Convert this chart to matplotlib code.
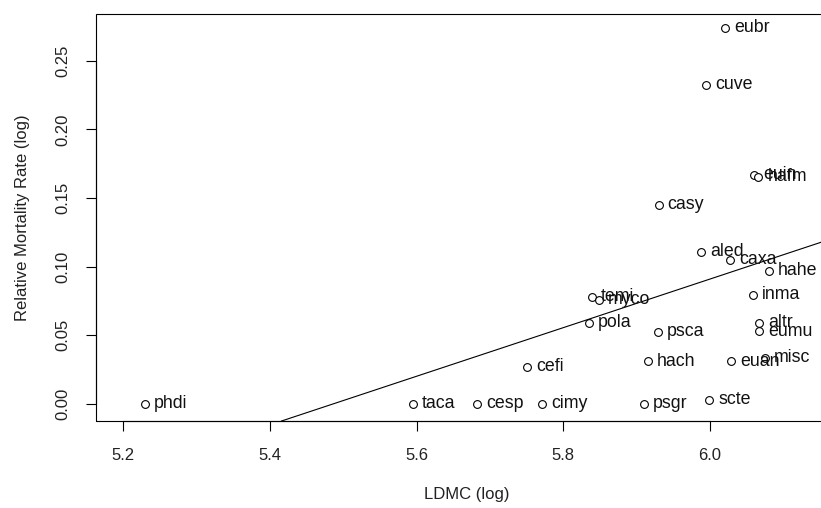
import numpy as np
import matplotlib
matplotlib.use("Agg")
import matplotlib.pyplot as plt
from matplotlib.patches import Rectangle

species = ["phdi", "taca", "cesp", "cimy", "psgr", "scte", "cefi", "pola",
           "temi", "myco", "psca", "hach", "casy", "cuve", "eubr", "euin",
           "hafm", "aled", "caxa", "hahe", "inma", "altr", "eumu", "euan", "misc"]
ldmc = [5.230, 5.595, 5.682, 5.771, 5.910, 5.999, 5.751, 5.835,
        5.839, 5.848, 5.929, 5.915, 5.930, 5.995, 6.020, 6.060,
        6.066, 5.988, 6.027, 6.080, 6.059, 6.067, 6.067, 6.029, 6.075]
mort = [0.000, 0.000, 0.000, 0.000, 0.000, 0.003, 0.027, 0.059,
        0.078, 0.076, 0.0525, 0.031, 0.145, 0.2325, 0.274, 0.167,
        0.1655, 0.111, 0.105, 0.097, 0.0795, 0.059, 0.053, 0.031, 0.0335]
xticks = [5.2, 5.4, 5.6, 5.8, 6.0]
yticks = [0.00, 0.05, 0.10, 0.15, 0.20, 0.25]

plt.rcParams['font.family'] = ['Liberation Sans', 'DejaVu Sans']

W, H = 821, 508
fig = plt.figure(figsize=(W / 100, H / 100), dpi=100)
left_px, right_px, top_px, bot_px = 96, 830, 14, 421
ax = fig.add_axes([left_px / W, 1 - bot_px / H,
                   (right_px - left_px) / W, (bot_px - top_px) / H])

x = np.array(ldmc)
y = np.array(mort)
ax.plot(x, y, linestyle='none', marker='o', markersize=5.6,
        markerfacecolor='white', markeredgecolor='black', markeredgewidth=0.8)
for s, xi, yi in zip(species, x, y):
    ax.annotate(s, (xi, yi), xytext=(6.5, 0), textcoords='offset points',
                ha='left', va='center', fontsize=12.8, color='#111111')

slope, intercept = np.polyfit(x, y, 1)
ax.axline((0, intercept), slope=slope, color='black', linewidth=0.8)

ax.set_xlim(5.163, 6.1635)
ax.set_ylim(-0.0124, 0.284)

for sp in ['top', 'right']:
    ax.spines[sp].set_visible(False)
ax.spines['left'].set_bounds(0.0, 0.25)
ax.spines['bottom'].set_bounds(5.2, 6.0)
for sp in ['left', 'bottom']:
    ax.spines[sp].set_linewidth(0.8)
ax.add_patch(Rectangle((0, 0), 1, 1, transform=ax.transAxes, fill=False,
                       edgecolor='black', linewidth=0.8, clip_on=False, zorder=5))

ax.set_xticks(xticks)
ax.set_xticklabels([f"{v:.1f}" for v in xticks])
ax.set_yticks(yticks)
ax.set_yticklabels([f"{v:.2f}" for v in yticks], rotation=90, va='center')
ax.tick_params(axis='both', direction='out', length=7.2, width=0.8,
               labelsize=12, colors='black', labelcolor='#222222')
ax.tick_params(axis='x', pad=12)
ax.tick_params(axis='y', pad=11)

ax.set_xlabel("LDMC (log)", fontsize=12, color='#222222')
ax.set_ylabel("Relative Mortality Rate (log)", fontsize=12, color='#222222')
ax.xaxis.set_label_coords((467 - left_px) / (right_px - left_px), -(487 - bot_px) / (bot_px - top_px))
ax.yaxis.set_label_coords(-(left_px - 30) / (right_px - left_px), 0.5)

fig.savefig("out.png", dpi=100)
